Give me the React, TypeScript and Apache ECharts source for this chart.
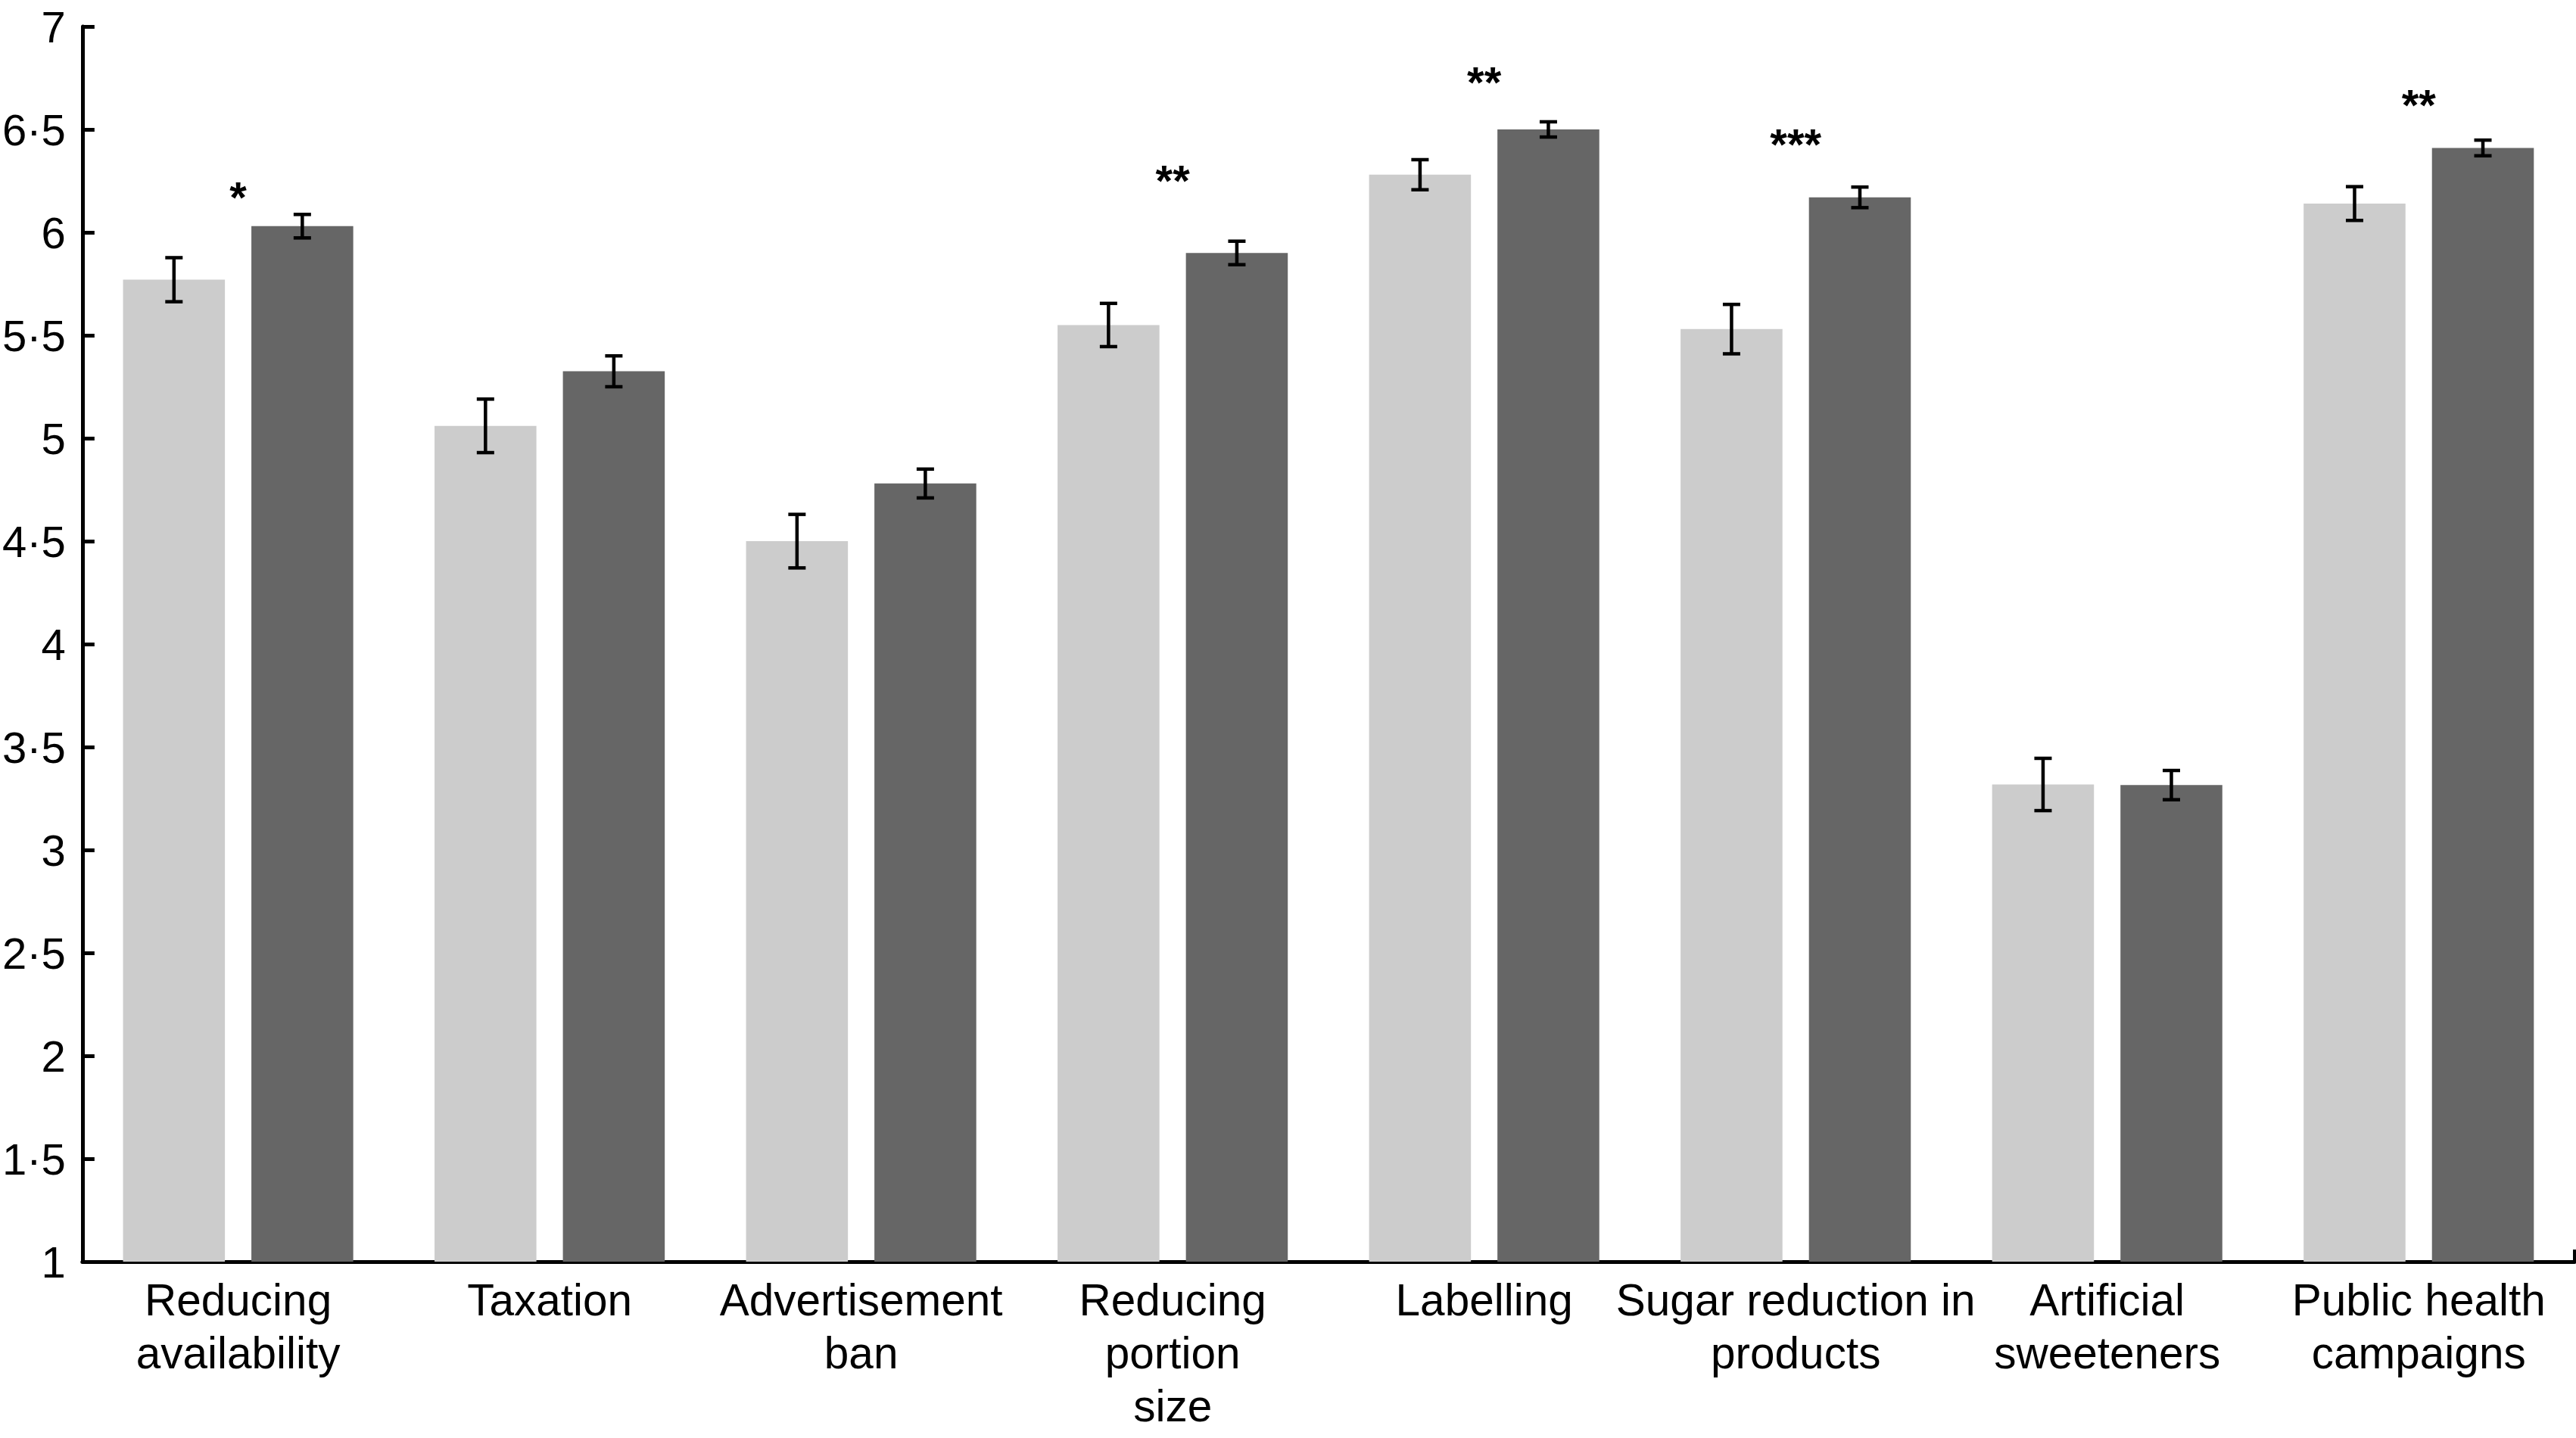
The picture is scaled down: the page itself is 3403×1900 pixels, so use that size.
import React, { useEffect, useRef } from "react";
import * as echarts from "echarts";

const categories = [
  "Reducing\navailability",
  "Taxation",
  "Advertisement\nban",
  "Reducing\nportion\nsize",
  "Labelling",
  "Sugar reduction in\nproducts",
  "Artificial\nsweeteners",
  "Public health\ncampaigns",
];
const lightMeans = [5.77, 5.06, 4.5, 5.55, 6.28, 5.53, 3.318, 6.14];
const lightErr = [0.107, 0.13, 0.13, 0.105, 0.073, 0.12, 0.127, 0.082];
const darkMeans = [6.03, 5.325, 4.78, 5.9, 6.5, 6.17, 3.315, 6.41];
const darkErr = [0.057, 0.075, 0.07, 0.057, 0.037, 0.05, 0.071, 0.038];
const sigLabels = ["*", "", "", "**", "**", "***", "", "**"];
const sigLevels = [6.2, 0, 0, 6.28, 6.76, 6.456, 0, 6.65];

const FONT = "'Liberation Sans', Arial, sans-serif";

function errorSeries(means: number[], errs: number[], sign: number) {
  return {
    type: "custom",
    z: 5,
    data: means.map((m, i) => [i, m - errs[i], m + errs[i]]),
    encode: { x: 0, y: [1, 2] },
    renderItem: (params: any, api: any) => {
      const i = api.value(0);
      const lo = api.coord([i, api.value(1)]);
      const hi = api.coord([i, api.value(2)]);
      const band = api.size([1, 0])[0];
      const x = lo[0] + sign * band * 0.206;
      const cap = 11.5;
      const style = { stroke: "#000", lineWidth: 4.5 };
      return {
        type: "group",
        children: [
          { type: "line", shape: { x1: x, y1: lo[1], x2: x, y2: hi[1] }, style },
          { type: "line", shape: { x1: x - cap, y1: lo[1], x2: x + cap, y2: lo[1] }, style },
          { type: "line", shape: { x1: x - cap, y1: hi[1], x2: x + cap, y2: hi[1] }, style },
        ],
      };
    },
  };
}

export default function App() {
  const ref = useRef<HTMLDivElement>(null);
  useEffect(() => {
    if (!ref.current) return;
    const chart = echarts.init(ref.current, null, { renderer: "svg" });
    const option: any = {
      animation: false,
      backgroundColor: "#fff",
      grid: { left: 102, right: 2, top: 35, bottom: 233, containLabel: false },
      xAxis: {
        type: "category",
        data: categories,
        axisLine: { lineStyle: { color: "#000", width: 5 } },
        axisTick: {
          show: true,
          inside: true,
          length: 16,
          interval: (i: number) => i === 0,
          lineStyle: { color: "#000", width: 5 },
        },
        axisLabel: {
          interval: 0,
          color: "#000",
          fontSize: 58.5,
          lineHeight: 70,
          margin: 15,
          fontFamily: FONT,
        },
      },
      yAxis: {
        type: "value",
        min: 1,
        max: 7,
        interval: 0.5,
        axisLine: { show: true, lineStyle: { color: "#000", width: 5 } },
        axisTick: { show: true, inside: true, length: 16, lineStyle: { color: "#000", width: 5 } },
        splitLine: { show: false },
        axisLabel: {
          color: "#000",
          fontSize: 58,
          margin: 22,
          padding: [0, 0, 10, 0],
          fontFamily: FONT,
          formatter: (v: number) => String(v).replace(".", "·"),
        },
      },
      series: [
        {
          type: "bar",
          data: lightMeans,
          barWidth: "32.7%",
          barGap: "26%",
          itemStyle: { color: "#cccccc" },
        },
        {
          type: "bar",
          data: darkMeans,
          barWidth: "32.7%",
          barGap: "26%",
          itemStyle: { color: "#666666" },
        },
        errorSeries(lightMeans, lightErr, -1),
        errorSeries(darkMeans, darkErr, 1),
        {
          type: "custom",
          z: 6,
          data: sigLevels.map((v, i) => [i, v]),
          encode: { x: 0, y: 1 },
          renderItem: (params: any, api: any) => {
            const i = api.value(0);
            const txt = sigLabels[i];
            if (!txt) return null;
            const p = api.coord([i, api.value(1)]);
            return {
              type: "text",
              x: p[0],
              y: p[1] + 8,
              style: {
                text: txt,
                fill: "#000",
                fontSize: 58,
                fontWeight: "bold",
                fontFamily: FONT,
                align: "center",
                verticalAlign: "middle",
              },
            };
          },
        },
      ],
    };
    chart.setOption(option);
    return () => chart.dispose();
  }, []);
  return (
    <div
      ref={ref}
      style={{ position: "fixed", left: 0, top: 0, width: 3403, height: 1900, background: "#fff" }}
    />
  );
}
